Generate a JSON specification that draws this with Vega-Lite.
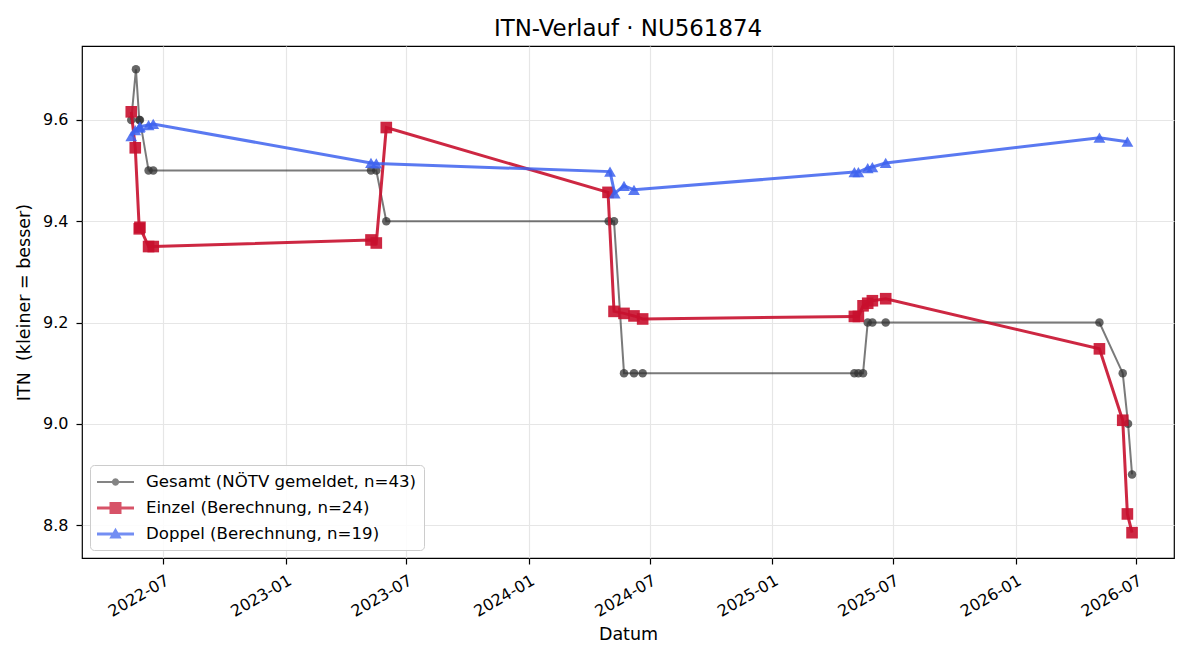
{
  "$schema": "https://vega.github.io/schema/vega-lite/v6.json",
  "width": 1092,
  "height": 512,
  "autosize": {"type": "none"},
  "padding": {"left": 82, "top": 46, "right": 26, "bottom": 102},
  "background": "white",
  "title": {"text": "ITN-Verlauf · NU561874", "fontSize": 22.9, "font": "DejaVu Sans", "fontWeight": "normal", "color": "#000", "offset": 5},
  "config": {
    "font": "DejaVu Sans",
    "view": {"stroke": "#000", "strokeWidth": 1.2},
    "axis": {
      "labelFont": "DejaVu Sans", "labelFontSize": 16, "labelColor": "#000",
      "titleFont": "DejaVu Sans", "titleFontSize": 17.5, "titleFontWeight": "normal", "titleColor": "#000",
      "domain": false, "tickColor": "#000", "tickSize": 6, "tickWidth": 1.2,
      "gridColor": "#e6e6e6", "gridWidth": 1.2, "labelPadding": 5
    }
  },
  "data": {"values": [
    {"s": "G", "d": "2022-05-14", "v": 9.6},
    {"s": "G", "d": "2022-05-21", "v": 9.7},
    {"s": "G", "d": "2022-05-26", "v": 9.6},
    {"s": "G", "d": "2022-05-27", "v": 9.6},
    {"s": "G", "d": "2022-06-09", "v": 9.5},
    {"s": "G", "d": "2022-06-16", "v": 9.5},
    {"s": "G", "d": "2023-05-09", "v": 9.5},
    {"s": "G", "d": "2023-05-17", "v": 9.5},
    {"s": "G", "d": "2023-06-01", "v": 9.4},
    {"s": "G", "d": "2024-04-30", "v": 9.4},
    {"s": "G", "d": "2024-05-08", "v": 9.4},
    {"s": "G", "d": "2024-05-23", "v": 9.1},
    {"s": "G", "d": "2024-06-07", "v": 9.1},
    {"s": "G", "d": "2024-06-20", "v": 9.1},
    {"s": "G", "d": "2025-05-04", "v": 9.1},
    {"s": "G", "d": "2025-05-10", "v": 9.1},
    {"s": "G", "d": "2025-05-17", "v": 9.1},
    {"s": "G", "d": "2025-05-24", "v": 9.2},
    {"s": "G", "d": "2025-05-31", "v": 9.2},
    {"s": "G", "d": "2025-06-20", "v": 9.2},
    {"s": "G", "d": "2026-05-07", "v": 9.2},
    {"s": "G", "d": "2026-06-11", "v": 9.1},
    {"s": "G", "d": "2026-06-19", "v": 9.0},
    {"s": "G", "d": "2026-06-25", "v": 8.9},
    {"s": "E", "d": "2022-05-14", "v": 9.616},
    {"s": "E", "d": "2022-05-20", "v": 9.545},
    {"s": "E", "d": "2022-05-26", "v": 9.385},
    {"s": "E", "d": "2022-05-27", "v": 9.388},
    {"s": "E", "d": "2022-06-09", "v": 9.35},
    {"s": "E", "d": "2022-06-16", "v": 9.35},
    {"s": "E", "d": "2023-05-09", "v": 9.363},
    {"s": "E", "d": "2023-05-17", "v": 9.357},
    {"s": "E", "d": "2023-06-01", "v": 9.585},
    {"s": "E", "d": "2024-04-29", "v": 9.457},
    {"s": "E", "d": "2024-05-08", "v": 9.222},
    {"s": "E", "d": "2024-05-23", "v": 9.218},
    {"s": "E", "d": "2024-06-07", "v": 9.213},
    {"s": "E", "d": "2024-06-20", "v": 9.207},
    {"s": "E", "d": "2025-05-04", "v": 9.212},
    {"s": "E", "d": "2025-05-10", "v": 9.212},
    {"s": "E", "d": "2025-05-17", "v": 9.233},
    {"s": "E", "d": "2025-05-24", "v": 9.238},
    {"s": "E", "d": "2025-05-31", "v": 9.243},
    {"s": "E", "d": "2025-06-20", "v": 9.247},
    {"s": "E", "d": "2026-05-07", "v": 9.148},
    {"s": "E", "d": "2026-06-11", "v": 9.007},
    {"s": "E", "d": "2026-06-18", "v": 8.822},
    {"s": "E", "d": "2026-06-25", "v": 8.785},
    {"s": "D", "d": "2022-05-14", "v": 9.568},
    {"s": "D", "d": "2022-05-20", "v": 9.58},
    {"s": "D", "d": "2022-05-26", "v": 9.585},
    {"s": "D", "d": "2022-05-27", "v": 9.587},
    {"s": "D", "d": "2022-06-09", "v": 9.59},
    {"s": "D", "d": "2022-06-16", "v": 9.592},
    {"s": "D", "d": "2023-05-09", "v": 9.515},
    {"s": "D", "d": "2023-05-17", "v": 9.514},
    {"s": "D", "d": "2024-05-02", "v": 9.498},
    {"s": "D", "d": "2024-05-09", "v": 9.455},
    {"s": "D", "d": "2024-05-23", "v": 9.47},
    {"s": "D", "d": "2024-06-07", "v": 9.462},
    {"s": "D", "d": "2025-05-04", "v": 9.497},
    {"s": "D", "d": "2025-05-10", "v": 9.497},
    {"s": "D", "d": "2025-05-24", "v": 9.505},
    {"s": "D", "d": "2025-05-31", "v": 9.507},
    {"s": "D", "d": "2025-06-20", "v": 9.515},
    {"s": "D", "d": "2026-05-07", "v": 9.565},
    {"s": "D", "d": "2026-06-18", "v": 9.557}
  ]},
  "encoding": {
    "x": {
      "field": "d", "type": "temporal", "title": "Datum",
      "scale": {"type": "utc", "domain": [{"year": 2022, "month": 3, "date": 1, "utc": true}, {"year": 2026, "month": 8, "date": 27, "utc": true}]},
      "axis": {
        "values": [
          {"year": 2022, "month": 7, "date": 1, "utc": true},
          {"year": 2023, "month": 1, "date": 1, "utc": true},
          {"year": 2023, "month": 7, "date": 1, "utc": true},
          {"year": 2024, "month": 1, "date": 1, "utc": true},
          {"year": 2024, "month": 7, "date": 1, "utc": true},
          {"year": 2025, "month": 1, "date": 1, "utc": true},
          {"year": 2025, "month": 7, "date": 1, "utc": true},
          {"year": 2026, "month": 1, "date": 1, "utc": true},
          {"year": 2026, "month": 7, "date": 1, "utc": true}
        ],
        "format": "%Y-%m", "labelAngle": -30, "labelAlign": "right", "labelBaseline": "top",
        "labelPadding": 8, "labelDx": -7, "titlePadding": 6
      }
    },
    "y": {
      "field": "v", "type": "quantitative", "title": "ITN\u00a0\u00a0(kleiner = besser)",
      "scale": {"domain": [8.735, 9.746], "zero": false, "nice": false},
      "axis": {"values": [8.8, 9.0, 9.2, 9.4, 9.6], "format": ".1f", "labelPadding": 8, "titlePadding": 9}
    }
  },
  "layer": [
    {"transform": [{"filter": "datum.s === 'G'"}], "mark": {"type": "line", "color": "#333333", "opacity": 0.65, "strokeWidth": 2}},
    {"transform": [{"filter": "datum.s === 'G'"}], "mark": {"type": "point", "filled": true, "shape": "circle", "size": 72, "color": "#333333", "opacity": 0.75}},
    {"transform": [{"filter": "datum.s === 'E'"}], "mark": {"type": "line", "color": "#c8102e", "opacity": 0.9, "strokeWidth": 3}},
    {"transform": [{"filter": "datum.s === 'E'"}], "mark": {"type": "point", "filled": true, "shape": "square", "size": 135, "color": "#c8102e", "opacity": 0.9}},
    {"transform": [{"filter": "datum.s === 'D'"}], "mark": {"type": "line", "color": "#3d62ee", "opacity": 0.85, "strokeWidth": 3}},
    {"transform": [{"filter": "datum.s === 'D'"}], "mark": {"type": "point", "filled": true, "shape": "triangle-up", "size": 140, "color": "#3d62ee", "opacity": 0.85}},
    {
      "transform": [{"filter": "datum.s === 'none'"}],
      "mark": {"type": "point", "filled": true, "opacity": 0.85},
      "encoding": {
        "color": {
          "field": "s", "type": "nominal",
          "scale": {"domain": ["G", "E", "D"], "range": ["#555555", "#c8102e", "#3d62ee"]},
          "legend": {
            "title": null, "orient": "bottom-left", "offset": 8, "direction": "vertical",
            "labelFont": "DejaVu Sans", "labelFontSize": 16.6, "labelColor": "#000", "labelLimit": 0,
            "symbolSize": 400, "symbolStrokeWidth": 0, "symbolOpacity": 0.85,
            "labelOffset": 29, "rowPadding": 7, "padding": 7,
            "strokeColor": "#cccccc", "fillColor": "rgba(255,255,255,0.85)", "cornerRadius": 4,
            "labelExpr": "datum.value === 'G' ? 'Gesamt (NÖTV gemeldet, n=43)' : datum.value === 'E' ? 'Einzel (Berechnung, n=24)' : 'Doppel (Berechnung, n=19)'"
          }
        },
        "shape": {
          "field": "s", "type": "nominal",
          "scale": {"domain": ["G", "E", "D"], "range": [
            "M-1,-0.1H2.7V0.1H-1Z M1.22,0L1.17,0.185L1.035,0.32L0.85,0.37L0.665,0.32L0.53,0.185L0.48,0L0.53,-0.185L0.665,-0.32L0.85,-0.37L1.035,-0.32L1.17,-0.185Z",
            "M-1,-0.14H2.7V0.14H-1Z M0.25,-0.6H1.45V0.6H0.25Z",
            "M-1,-0.14H2.7V0.14H-1Z M0.85,-0.62L1.47,0.46L0.23,0.46Z"
          ]}
        }
      }
    }
  ]
}
